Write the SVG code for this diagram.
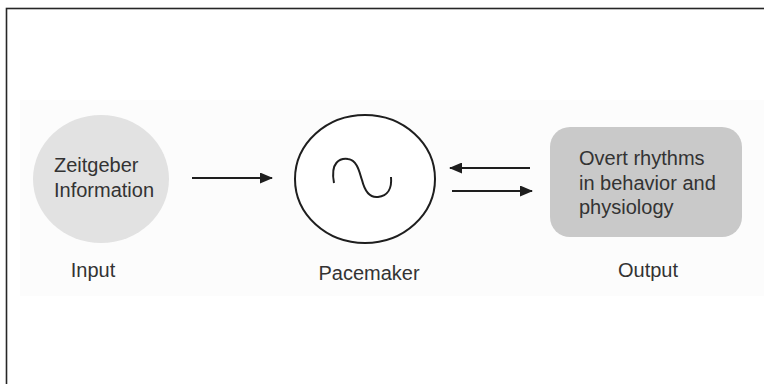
<svg xmlns="http://www.w3.org/2000/svg" width="764" height="384" viewBox="0 0 764 384">
<style>
text{font-family:"Liberation Sans",Arial,sans-serif;font-size:20px;fill:#333333}
.conn{stroke:#1e1e1e;stroke-width:2;fill:none}
.lbl{text-anchor:middle}
</style>
<defs>
<marker id="ah" viewBox="0 0 13 11" refX="12" refY="5.5" markerWidth="13" markerHeight="11" markerUnits="userSpaceOnUse" orient="auto">
<path d="M0,0 L13,5.5 L0,11 Z" fill="#1e1e1e"/>
</marker>
</defs>
<rect x="0" y="0" width="764" height="384" fill="#ffffff"/>
<rect x="20" y="100" width="744" height="196" fill="#fcfcfc"/>
<rect x="6.5" y="8.5" width="770" height="390" fill="none" stroke="#262626" stroke-width="1.6"/>
<g id="input">
<ellipse cx="101" cy="179" rx="68" ry="64" fill="#e2e2e2"/>
<text x="54" y="172">Zeitgeber</text>
<text x="54" y="197">Information</text>
<text class="lbl" x="93" y="277">Input</text>
</g>
<g id="pacemaker">
<ellipse cx="365" cy="179" rx="70" ry="64" fill="#ffffff" stroke="#1e1e1e" stroke-width="2"/>
<path d="M334,183 C330,162 340,158 348,159 C358,160 360,175 362,180 C365,192 370,198 378,197 C388,196 392,188 391,177" fill="none" stroke="#1e1e1e" stroke-width="2"/>
<text class="lbl" x="369" y="280">Pacemaker</text>
</g>
<g id="output">
<rect x="550" y="127" width="192" height="110" rx="20" ry="20" fill="#c9c9c9"/>
<text x="579" y="165">Overt rhythms</text>
<text x="579" y="190">in behavior and</text>
<text x="579" y="214">physiology</text>
<text class="lbl" x="648" y="277">Output</text>
</g>
<g id="connectors">
<line class="conn" x1="192" y1="178" x2="272" y2="178" marker-end="url(#ah)"/>
<line class="conn" x1="530" y1="168" x2="450" y2="168" marker-end="url(#ah)"/>
<line class="conn" x1="452" y1="191" x2="532" y2="191" marker-end="url(#ah)"/>
</g>
</svg>
